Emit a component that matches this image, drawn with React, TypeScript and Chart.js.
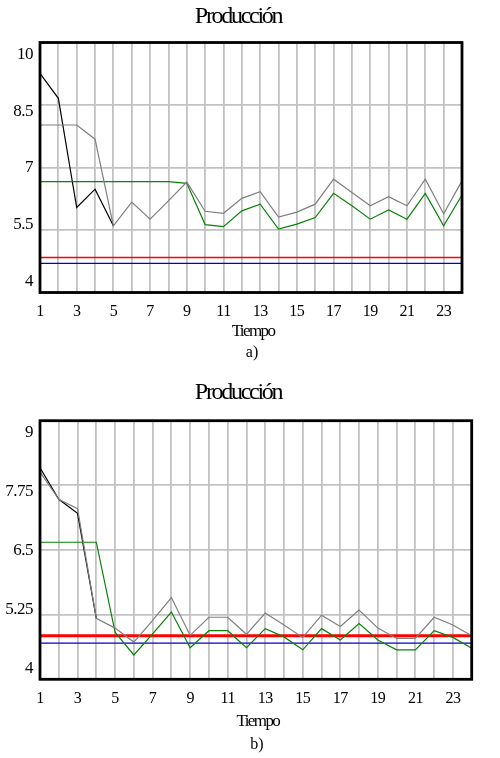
import { useEffect, useRef } from "react"
import { Chart, registerables } from "chart.js"

Chart.register(...registerables)

const tiempo = ["1", "2", "3", "4", "5", "6", "7", "8", "9", "10", "11", "12", "13", "14", "15", "16", "17", "18", "19", "20", "21", "22", "23", "24"]

const tituloGrafico = "Producción"
const tituloEje = "Tiempo"

// panel a)
const ticksA = [4, 5.5, 7, 8.5, 10]
const grisA = [8.02, 8.02, 8.02, 7.68, 5.6, 6.17, 5.76, 6.2, 6.65, 5.95, 5.9, 6.26, 6.42, 5.81, 5.93, 6.12, 6.72, 6.4, 6.08, 6.3, 6.08, 6.72, 5.89, 6.68]
const negroA = [9.26, 8.66, 6.04, 6.48, 5.6]
const verdeA = [6.66, 6.66, 6.66, 6.66, 6.66, 6.66, 6.66, 6.66, 6.62, 5.63, 5.58, 5.96, 6.12, 5.52, 5.64, 5.8, 6.38, 6.08, 5.76, 5.98, 5.76, 6.38, 5.6, 6.34]
const rojoA = 4.84
const azulA = 4.7

// panel b)
const ticksB = [4, 5.25, 6.5, 7.75, 9]
const grisB = [8.01, 7.48, 7.3, 5.18, 4.99, 4.72, 5.14, 5.58, 4.85, 5.2, 5.2, 4.87, 5.28, 5.05, 4.81, 5.24, 5.02, 5.34, 4.99, 4.79, 4.79, 5.2, 5.05, 4.84]
const negroB = [8.09, 7.48, 7.21, 5.18]
const verdeB = [6.65, 6.65, 6.65, 6.65, 4.91, 4.47, 4.88, 5.3, 4.61, 4.94, 4.94, 4.61, 4.98, 4.82, 4.57, 4.98, 4.76, 5.08, 4.76, 4.57, 4.57, 4.94, 4.81, 4.6]
const rojoB = 4.84
const azulB = 4.7

const FONT = "'Liberation Serif', 'Times New Roman', serif"
const GRID = "#c2c2c2"

type PanelProps = {
  top: number
  height: number
  plotTop: number
  plotBottom: number
  plotRight: number
  yTicks: number[]
  grey: number[]
  black: number[]
  green: number[]
  red: number
  blue: number
  redWidth: number
  letter: string
  titleY: number
  axisTitleY: number
  letterY: number
}

function Panel(p: PanelProps) {
  const canvasRef = useRef<HTMLCanvasElement>(null)

  useEffect(() => {
    if (!canvasRef.current) return
    const ctx = canvasRef.current.getContext("2d")
    if (!ctx) return

    const yMin = p.yTicks[0]
    const yMax = p.yTicks[p.yTicks.length - 1]
    // labels of the y axis sit a little inside the frame, as in the original
    const insetTop = 12
    const insetBottom = 11
    const span = p.plotBottom - p.plotTop - insetTop - insetBottom
    const perPx = (yMax - yMin) / span
    const labelMax = yMax + insetTop * perPx
    const labelMin = yMin - insetBottom * perPx

    const framePlugin = {
      id: "frame",
      beforeDraw(chart: Chart) {
        ;(chart.ctx as any).letterSpacing = "-0.5px"
      },
      afterDatasetsDraw(chart: Chart) {
        const { ctx: c, chartArea: a } = chart
        c.save()
        c.strokeStyle = "#000"
        c.lineWidth = 2.8
        c.strokeRect(a.left, a.top, a.right - a.left, a.bottom - a.top)
        c.restore()
      },
      afterDraw(chart: Chart) {
        const { ctx: c, chartArea: a } = chart
        const mid = (a.left + a.right) / 2
        c.save()
        c.fillStyle = "#000"
        c.textAlign = "center"
        c.textBaseline = "middle"
        c.font = `24px ${FONT}`
        ;(c as any).letterSpacing = "-2.3px"
        c.fillText(tituloGrafico, 238, p.titleY)
        c.font = `17px ${FONT}`
        ;(c as any).letterSpacing = "-1.6px"
        c.fillText(tituloEje, mid + 2, p.axisTitleY)
        ;(c as any).letterSpacing = "0px"
        c.font = `16px ${FONT}`
        c.fillText(p.letter, mid + 1, p.letterY)
        c.restore()
      },
    }

    const chart = new Chart(ctx, {
      type: "line",
      data: {
        labels: tiempo,
        datasets: [
          { data: p.grey, borderColor: "#7f7f7f", borderWidth: 1.2 },
          { data: p.green, borderColor: "#0a820a", borderWidth: 1.2 },
          { data: p.black, borderColor: "#000000", borderWidth: 1.2 },
          {
            data: [{ x: tiempo[0], y: p.red }, { x: tiempo[tiempo.length - 1], y: p.red }],
            borderColor: "#ff0000",
            borderWidth: p.redWidth,
          },
          {
            data: [{ x: tiempo[0], y: p.blue }, { x: tiempo[tiempo.length - 1], y: p.blue }],
            borderColor: "#0000d0",
            borderWidth: 1.3,
          },
        ],
      },
      options: {
        animation: false,
        responsive: true,
        maintainAspectRatio: false,
        elements: { point: { radius: 0 }, line: { tension: 0 } },
        layout: { padding: { top: p.plotTop, right: 500 - p.plotRight, bottom: 0, left: 0 } },
        plugins: { legend: { display: false }, title: { display: false }, tooltip: { enabled: false } },
        scales: {
          x: {
            type: "category",
            offset: false,
            border: { display: false },
            grid: { color: GRID, lineWidth: 1.8, drawTicks: false },
            ticks: {
              autoSkip: false,
              maxRotation: 0,
              padding: 10,
              color: "#000",
              font: { family: FONT, size: 16 },
              callback: (_v: any, i: number) => (i % 2 === 0 ? tiempo[i] : ""),
            },
            afterFit: (s: any) => {
              s.height = p.height - p.plotBottom
            },
          },
          y: {
            type: "linear",
            position: "left",
            min: yMin,
            max: yMax,
            border: { display: false },
            grid: { color: GRID, lineWidth: 1.8, drawTicks: false },
            ticks: { display: false, stepSize: p.yTicks[1] - p.yTicks[0] },
            afterFit: (s: any) => {
              s.width = 0
            },
          },
          yl: {
            type: "linear",
            axis: "y",
            position: "left",
            min: labelMin,
            max: labelMax,
            border: { display: false },
            grid: { display: false, drawTicks: false },
            afterBuildTicks: (s: any) => {
              s.ticks = p.yTicks.map((v) => ({ value: v }))
            },
            ticks: {
              padding: 7,
              color: "#000",
              font: { family: FONT, size: 17 },
              callback: (v: any) => String(v),
            },
            afterFit: (s: any) => {
              s.width = 40
            },
          },
        },
      },
      plugins: [framePlugin],
    } as any)

    return () => {
      chart.destroy()
    }
  }, [])

  return (
    <div style={{ position: "absolute", left: 0, top: p.top, width: 500, height: p.height }}>
      <canvas ref={canvasRef}></canvas>
    </div>
  )
}

export default function App() {
  return (
    <div style={{ position: "absolute", left: 0, top: 0, width: 500, height: 758, background: "#fff" }}>
      <Panel
        top={0}
        height={375}
        plotTop={42.5}
        plotBottom={292.5}
        plotRight={462}
        yTicks={ticksA}
        grey={grisA}
        black={negroA}
        green={verdeA}
        red={rojoA}
        blue={azulA}
        redWidth={1.3}
        letter="a)"
        titleY={17}
        axisTitleY={332}
        letterY={353}
      />
      <Panel
        top={375}
        height={383}
        plotTop={45.7}
        plotBottom={304.3}
        plotRight={471.7}
        yTicks={ticksB}
        grey={grisB}
        black={negroB}
        green={verdeB}
        red={rojoB}
        blue={azulB}
        redWidth={3}
        letter="b)"
        titleY={18}
        axisTitleY={347}
        letterY={370}
      />
    </div>
  )
}
